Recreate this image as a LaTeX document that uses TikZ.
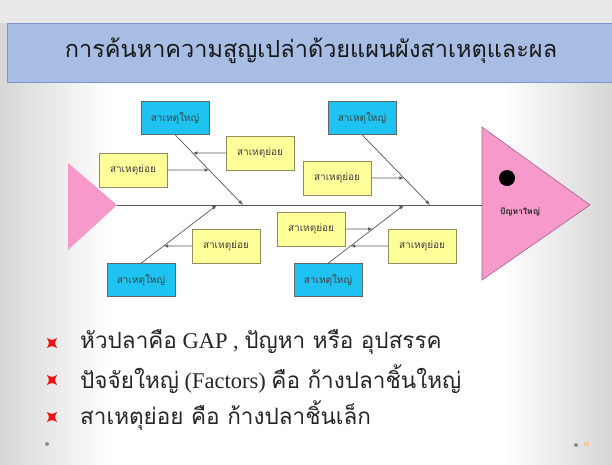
\documentclass[tikz,border=0pt]{standalone}
\usepackage{fontspec}
\setmainfont{Liberation Serif}
\newfontfamily\thaifont[Script=Thai]{Loma}
\usepackage{tikz}
\usepackage{xcolor}
\usetikzlibrary{
    arrows,
    calc,
    positioning
}
\definecolor{titleblue}{HTML}{A7BDE3}
\definecolor{titleedge}{HTML}{7C98C6}
\definecolor{causeblue}{HTML}{1EC3F2}
\definecolor{subyellow}{HTML}{FFFF99}
\definecolor{subedge}{HTML}{8E8E62}
\definecolor{fishpink}{HTML}{F79ACB}
\definecolor{fishedge}{HTML}{A8608A}
\definecolor{bulletred}{HTML}{EE1111}
\definecolor{pageorange}{HTML}{F5A04A}
\tikzset{
    mainbox/.style={draw=black!60, fill=causeblue, minimum width=68pt, minimum height=33pt,
        inner sep=0pt, font=\thaifont\fontsize{10}{11}\selectfont, text=black!75},
    subbox/.style={draw=subedge, fill=subyellow, minimum width=68pt, minimum height=34pt,
        inner sep=0pt, font=\thaifont\fontsize{10}{11}\selectfont, text=black!75},
    bone/.style={draw=black!65, line width=0.7pt, ->, >=latex},
    twig/.style={draw=black!65, line width=0.6pt, ->, >=latex},
    pointline/.style={anchor=west, inner sep=0pt, font=\fontsize{22.5}{25}\selectfont, text=black!85}
}

\begin{document}
\begin{tikzpicture}[x=1pt, y=-1pt]
    \useasboundingbox (0, 0) rectangle (612, 464);
    % slide background
    \fill[white] (0, 0) rectangle (612, 464);
    \shade[left color=black!16, right color=white] (0, 0) rectangle (110, 464);
    \shade[left color=white, right color=black!16] (502, 0) rectangle (612, 464);
    \fill[black!9] (0, 0) rectangle (612, 23);
    % title bar
    \draw[fill=titleblue, draw=titleedge, line width=0.8pt] (7, 23) rectangle (612, 82);
    \node[font=\thaifont\fontsize{23.5}{28}\selectfont, text=black!90] (title) at (311, 51)
        {การค้นหาความสูญเปล่าด้วยแผนผังสาเหตุและผล};

    % tail and head of the fish
    \fill[fishpink] (68, 163) -- (117, 205) -- (68, 250) -- cycle;
    \draw[fill=fishpink, draw=fishedge, line width=0.6pt] (482, 127) -- (590, 205) -- (482, 280) -- cycle;
    \coordinate (tail) at (117, 205);
    \coordinate (head) at (482, 205);
    \draw[black!65, line width=0.7pt] (tail) -- (head);
    \fill[black] (507, 178) circle (8);
    \node[font=\thaifont\bfseries\fontsize{8.5}{9}\selectfont, text=black!85] (problem) at (520, 212) {ปัญหาใหญ่};

    % main causes
    \node[mainbox] (m1) at (175, 118) {สาเหตุใหญ่};
    \node[mainbox] (m2) at (362, 118) {สาเหตุใหญ่};
    \node[mainbox] (m3) at (141, 280) {สาเหตุใหญ่};
    \node[mainbox] (m4) at (328, 280) {สาเหตุใหญ่};
    % sub causes
    \node[subbox] (s1) at (133, 170) {สาเหตุย่อย};
    \node[subbox] (s2) at (260, 153) {สาเหตุย่อย};
    \node[subbox] (s3) at (337, 178) {สาเหตุย่อย};
    \node[subbox] (s4) at (226, 246) {สาเหตุย่อย};
    \node[subbox] (s5) at (311, 229) {สาเหตุย่อย};
    \node[subbox] (s6) at (422, 246) {สาเหตุย่อย};

    % bones
    \coordinate (e1) at (243, 205);
    \coordinate (e2) at (430, 205);
    \coordinate (e3) at (217, 205);
    \coordinate (e4) at (404, 205);
    \draw[bone] (m1.south) -- (e1);
    \draw[bone] (m2.south) -- (e2);
    \draw[bone] (m3.north) -- (e3);
    \draw[bone] (m4.north) -- (e4);
    \draw[twig] (s1.east) -- (intersection of m1.south--e1 and s1.west--s1.east);
    \draw[twig] (s2.west) -- (intersection of m1.south--e1 and s2.west--s2.east);
    \draw[twig] (s3.east) -- (intersection of m2.south--e2 and s3.west--s3.east);
    \draw[twig] (s4.west) -- (intersection of m3.north--e3 and s4.west--s4.east);
    \draw[twig] (s5.east) -- (intersection of m4.north--e4 and s5.west--s5.east);
    \draw[twig] (s6.west) -- (intersection of m4.north--e4 and s6.west--s6.east);

    % bullet points
    \foreach \y in {343, 380, 417} {
        \fill[bulletred, shift={(52, \y)}]
            (-5, -5) .. controls (0, -2.5) .. (5, -5)
            .. controls (2.5, 0) .. (5, 5)
            .. controls (0, 2.5) .. (-5, 5)
            .. controls (-2.5, 0) .. cycle;
    }
    \node[pointline] (p1) at (80, 342) {{\thaifont หัวปลาคือ} GAP , {\thaifont ปัญหา หรือ อุปสรรค}};
    \node[pointline] (p2) at (80, 379) {{\thaifont ปัจจัยใหญ่} (Factors) {\thaifont คือ ก้างปลาชิ้นใหญ่}};
    \node[pointline] (p3) at (80, 416) {{\thaifont สาเหตุย่อย คือ ก้างปลาชิ้นเล็ก}};

    % footer
    \fill[black!45] (47, 444) circle (2);
    \fill[black!45] (576, 445) circle (2);
    \node[font=\fontsize{6}{7}\selectfont, text=pageorange, inner sep=0pt] (page) at (586, 445) {16};
\end{tikzpicture}
\end{document}
